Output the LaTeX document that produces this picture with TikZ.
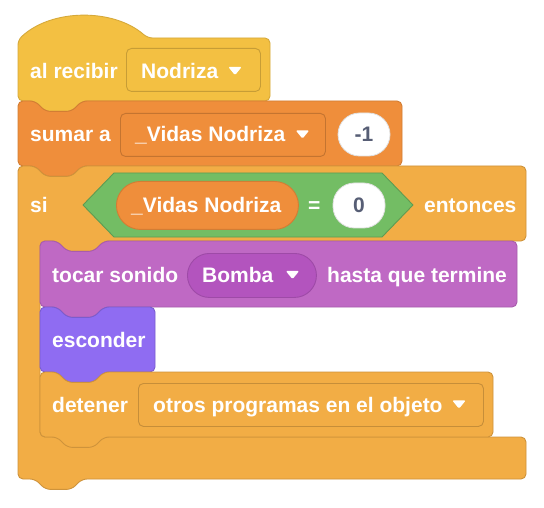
\documentclass[tikz,border=0pt]{standalone}
\usepackage{fontspec}
\setmainfont{Liberation Sans}
\definecolor{evyellow}{HTML}{F3C042}
\definecolor{varorange}{HTML}{EF8E3B}
\definecolor{ctrlorange}{HTML}{F2AD45}
\definecolor{opgreen}{HTML}{73BD64}
\definecolor{sndpurple}{HTML}{BF69C4}
\definecolor{snddark}{HTML}{B354BE}
\definecolor{lkspurple}{HTML}{8F6CF2}
\definecolor{inputtext}{HTML}{575E75}

% stack block with a notch on top and a tab below: left, top, right, bottom, style
\newcommand{\stackblk}[5]{%
  \draw[#5] (#1,#2) -- (#1+17,#2) -- (#1+27.4,#2+10.4) -- (#1+53.6,#2+10.4)
    -- (#1+64,#2) -- (#3,#2) -- (#3,#4) -- (#1+64,#4) -- (#1+53.6,#4+10.4)
    -- (#1+27.4,#4+10.4) -- (#1+17,#4) -- (#1,#4) -- cycle;}
% small white menu arrow centred at x, y
\newcommand{\menuarrow}[2]{%
  \fill[white, rounded corners=1.3pt] (#1-6.8,#2-4.2) -- (#1+6.8,#2-4.2)
    -- (#1,#2+4.2) -- cycle;}

\begin{document}
\begin{tikzpicture}[x=1pt, y=-1pt,
  blk/.style={line width=0.9pt, rounded corners=5pt, line join=round},
  hatblk/.style={blk, fill=evyellow, draw=evyellow!88!black},
  varblk/.style={blk, fill=varorange, draw=varorange!88!black},
  ctrlblk/.style={blk, fill=ctrlorange, draw=ctrlorange!85!black},
  sndblk/.style={blk, fill=sndpurple, draw=sndpurple!88!black},
  lksblk/.style={blk, fill=lkspurple, draw=lkspurple!85!black},
  ddbox/.style={draw=#1!82!black, fill=#1, line width=0.9pt, rounded corners=5pt,
    inner sep=0pt, anchor=north west},
  pill/.style={draw=#1!88!black, fill=#1, line width=0.9pt, rounded corners=21.5pt,
    inner sep=0pt, anchor=north west},
  numoval/.style={draw=black!12, fill=white, line width=0.8pt, rounded corners=21.5pt,
    inner sep=0pt, text=inputtext, font=\fontsize{21}{25}\selectfont\bfseries},
  txt/.style={text=white, font=\fontsize{21}{25}\selectfont\bfseries,
    inner sep=0pt, anchor=base west}]
\useasboundingbox (0,0) rectangle (544,508);
\fill[white] (0,0) rectangle (544,508);

% when I receive (hat)
\draw[hatblk] (18,101) -- (18,40) .. controls (51.75,8.3) and (113.85,8.3) .. (147.6,38)
  -- (270,38) -- (270,101) -- (82,101) -- (71.6,111.4) -- (45.4,111.4) -- (35,101) -- cycle;
\node[ddbox=evyellow, minimum width=134pt, minimum height=43pt] (ddmsg) at (126,48) {};
\node[txt] (trecv) at (30,79) {al recibir};
\node[txt] (tmsg) at (141,79) {Nodriza};
\menuarrow{235}{71}

% change variable by
\stackblk{18}{101}{402}{166}{varblk}
\node[ddbox=varorange, minimum width=205pt, minimum height=43pt] (ddvar) at (120,113) {};
\node[txt] (tsum) at (30,142) {sumar a};
\node[txt] (tvar) at (135,142) {\_Vidas Nodriza};
\menuarrow{302.5}{134.5}
\node[numoval, minimum width=52pt, minimum height=43pt] (nminus) at (364,134.5) {-1};

% if ... then (C block)
\draw[ctrlblk] (18,166) -- (35,166) -- (45.4,176.4) -- (71.6,176.4) -- (82,166)
  -- (526,166) -- (526,241) -- (104,241) -- (93.6,251.4) -- (67.4,251.4) -- (57,241)
  -- (40,241) -- (40,437) -- (526,437) -- (526,479) -- (82,479) -- (71.6,489.4)
  -- (45.4,489.4) -- (35,479) -- (18,479) -- cycle;
\node[txt] (tsi) at (30,213) {si};
\draw[fill=opgreen, draw=opgreen!82!black, line width=0.9pt, line join=round]
  (83,205) -- (114,173) -- (382,173) -- (413,205) -- (382,237) -- (114,237) -- cycle;
\node[pill=varorange, rounded corners=24pt, minimum width=182pt, minimum height=48pt]
  (rvar) at (116,181) {};
\node[txt] (trvar) at (131,213) {\_Vidas Nodriza};
\node[txt] (teq) at (308,213) {=};
\node[numoval, minimum width=52pt, minimum height=45pt] (nzero) at (359,205.5) {0};
\node[txt] (tthen) at (424,213) {entonces};

% play sound until done
\stackblk{40}{241}{517}{307}{sndblk}
\node[txt] (tplay) at (52,282.5) {tocar sonido};
\node[pill=snddark, rounded corners=22pt, minimum width=129pt, minimum height=44pt]
  (ddsnd) at (187,253) {};
\node[txt] (tsnd) at (202,282.5) {Bomba};
\menuarrow{292.5}{275}
\node[txt] (tuntil) at (327,282.5) {hasta que termine};

% hide
\stackblk{40}{307}{155}{372}{lksblk}
\node[txt] (thide) at (52,347) {esconder};

% stop other scripts
\stackblk{40}{372}{493}{437}{ctrlblk}
\node[ddbox=ctrlorange, minimum width=345pt, minimum height=43pt] (ddstop) at (138,383) {};
\node[txt] (tstop) at (52,412) {detener};
\node[txt] (topt) at (153,412) {otros programas en el objeto};
\menuarrow{459}{404.5}
\end{tikzpicture}
\end{document}
